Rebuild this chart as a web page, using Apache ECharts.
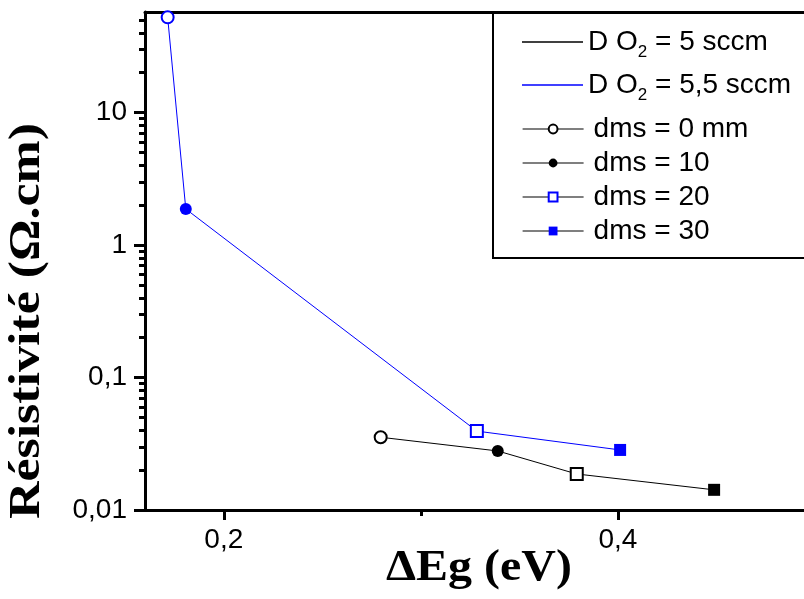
<!DOCTYPE html>
<html>
<head>
<meta charset="utf-8">
<title>Résistivité vs ΔEg</title>
<script src="https://cdn.jsdelivr.net/npm/echarts@6/dist/echarts.min.js"></script>
<style>
  html, body { margin: 0; padding: 0; background: #fff; }
  #chart { width: 804px; height: 599px; }
</style>
</head>
<body>
<div id="chart"></div>
<script>
// données
const dEg5 = [0.2796, 0.339, 0.3791, 0.4488];     // D O2 = 5 sccm
const rho5 = [0.0354, 0.0279, 0.0187, 0.0142];
const dEg55 = [0.1715, 0.1807, 0.3284, 0.4011];   // D O2 = 5,5 sccm
const rho55 = [52.3, 1.87, 0.0394, 0.0284];
const dmsNames = ["dms = 0 mm", "dms = 10", "dms = 20", "dms = 30"];
const dmsSymbols = ["emptyCircle", "circle", "emptyRect", "rect"];
const dmsLegendColors = ["#000", "#000", "#0000ff", "#0000ff"];
const lineNames = ["D O2 = 5 sccm", "D O2 = 5,5 sccm"];

// axes
const xMin = 0.16, xMax = 0.5;
const yMin = 0.01, yMax = 57.4;
const xTickLabels = [0.2, 0.4];
const xMinorTicks = [0.3];
const yTickLabels = [0.01, 0.1, 1, 10];

const BLUE = "#0000ff";
const SANS = "'Liberation Sans', Arial, sans-serif";
const SERIF = "'Liberation Serif', 'Times New Roman', serif";

function comma(v) {
  return String(v).replace(".", ",");
}

// graduations log : axe auxiliaire linéaire en log10
const yMajorLog = yTickLabels.map(v => Math.log10(v));
const yMinorLog = [];
for (let e = -2; e <= 1; e++) {
  for (let m = 2; m <= 9; m++) {
    const v = m * Math.pow(10, e);
    if (v < yMax) yMinorLog.push(Math.log10(v));
  }
}

const series = [
  {
    name: lineNames[0],
    type: "line",
    symbol: "none",
    data: dEg5.map((x, i) => [x, rho5[i]]),
    lineStyle: { color: "#000", width: 1 },
    itemStyle: { color: "#000" },
    z: 2,
  },
  {
    name: lineNames[1],
    type: "line",
    symbol: "none",
    data: dEg55.map((x, i) => [x, rho55[i]]),
    lineStyle: { color: BLUE, width: 1 },
    itemStyle: { color: BLUE },
    z: 2,
  },
];

// un point bleu (5,5 sccm) et un point noir (5 sccm) par dms
dmsNames.forEach((name, i) => {
  series.push({
    name: name,
    type: "line",
    symbol: dmsSymbols[i],
    symbolSize: 12,
    lineStyle: { width: 0 },
    itemStyle: { color: dmsLegendColors[i], borderWidth: 1.2 },
    data: [
      { value: [dEg55[i], rho55[i]], itemStyle: { color: BLUE } },
      { value: [dEg5[i], rho5[i]], itemStyle: { color: "#000" } },
    ],
    z: 5,
  });
});

const tickLine = { color: "#000", width: 3 };

// axe auxiliaire, seulement des graduations
function helperX(values, len) {
  return {
    type: "value",
    position: "bottom",
    min: xMin,
    max: xMax,
    axisLine: { show: false, onZero: false },
    axisTick: { show: true, customValues: values, length: len, lineStyle: tickLine },
    axisLabel: { show: false },
    splitLine: { show: false },
  };
}
function helperY(values, len) {
  return {
    type: "value",
    position: "left",
    min: Math.log10(yMin),
    max: Math.log10(yMax),
    axisLine: { show: false, onZero: false },
    axisTick: { show: true, customValues: values, length: len, lineStyle: tickLine },
    axisLabel: { show: false },
    splitLine: { show: false },
  };
}

const chart = echarts.init(document.getElementById("chart"));
chart.setOption({
  animation: false,
  backgroundColor: "#fff",
  grid: { left: 145, top: 12, width: 670, height: 498, outerBoundsMode: "none" },
  legend: [
    {
      data: lineNames,
      left: 517,
      top: 18,
      orient: "vertical",
      icon: "rect",
      itemWidth: 61,
      itemHeight: 1.5,
      itemGap: 5,
      selectedMode: false,
      formatter: n => n.replace("O2", "O{s|2}"),
      textStyle: {
        fontFamily: SANS,
        fontSize: 28,
        color: "#000",
        lineHeight: 38,
        rich: { s: { fontFamily: SANS, fontSize: 17, lineHeight: 6, verticalAlign: "bottom", color: "#000" } },
      },
    },
    {
      data: dmsNames,
      left: 517,
      top: 109,
      orient: "vertical",
      itemWidth: 61,
      itemHeight: 11,
      itemGap: 4,
      selectedMode: false,
      lineStyle: { color: "#000", width: 1.2 },
      textStyle: { fontFamily: SANS, fontSize: 28, color: "#000", lineHeight: 30, padding: [0, 0, 0, 5] },
    },
  ],
  xAxis: [
    {
      type: "value",
      position: "bottom",
      min: xMin,
      max: xMax,
      axisLine: { onZero: false, lineStyle: { color: "#000", width: 3 } },
      axisTick: { show: true, customValues: xTickLabels, length: 10, lineStyle: tickLine },
      axisLabel: {
        customValues: xTickLabels,
        formatter: comma,
        fontFamily: SANS,
        fontSize: 28,
        color: "#000",
        margin: 16,
      },
      splitLine: { show: false },
    },
    {
      type: "value",
      position: "top",
      min: xMin,
      max: xMax,
      axisLine: { show: true, onZero: false, lineStyle: { color: "#000", width: 3 } },
      axisTick: { show: false },
      axisLabel: { show: false },
      splitLine: { show: false },
    },
    helperX(xMinorTicks, 6),
  ],
  yAxis: [
    {
      type: "log",
      logBase: 10,
      position: "left",
      min: yMin,
      max: yMax,
      axisLine: { show: true, onZero: false, lineStyle: { color: "#000", width: 3 } },
      axisTick: { show: false },
      axisLabel: {
        formatter: v => {
          const l = Math.log10(v);
          return Math.abs(l - Math.round(l)) < 1e-6 ? comma(v) : "";
        },
        fontFamily: SANS,
        fontSize: 28,
        color: "#000",
        margin: 18,
      },
      splitLine: { show: false },
    },
    helperY(yMajorLog, 11),
    helperY(yMinorLog, 6),
  ],
  graphic: [
    {
      type: "rect",
      shape: { x: 493, y: 12, width: 400, height: 246 },
      style: { fill: "none", stroke: "#000", lineWidth: 2 },
      z: 0,
    },
    {
      type: "text",
      x: 28,
      y: 321,
      rotation: Math.PI / 2,
      scaleX: 1.18,
      style: {
        text: "Résistivité (Ω.cm)",
        font: "bold 44px " + SERIF,
        fill: "#000",
        align: "center",
        verticalAlign: "middle",
      },
    },
    {
      type: "text",
      x: 479,
      y: 569,
      scaleX: 1.09,
      style: {
        text: "ΔEg (eV)",
        font: "bold 44px " + SERIF,
        fill: "#000",
        align: "center",
        verticalAlign: "middle",
      },
    },
  ],
  series: series,
});
</script>
</body>
</html>
